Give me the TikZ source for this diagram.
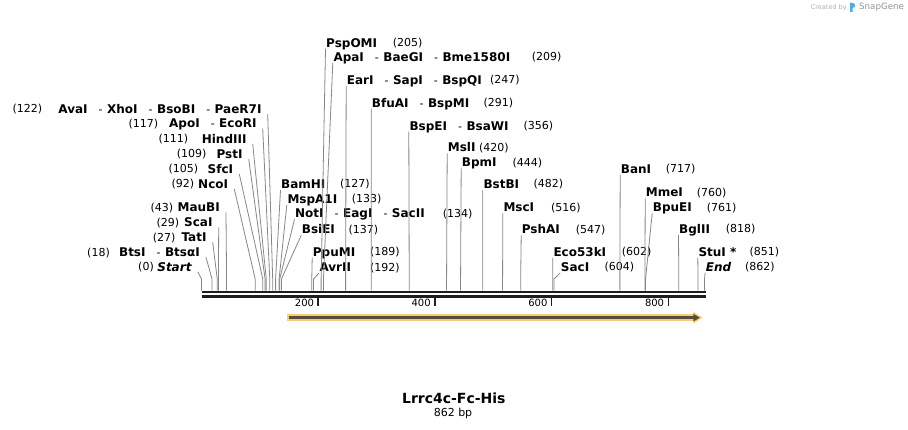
\documentclass[tikz,border=0pt]{standalone}
\usepackage{fontspec}
\setmainfont{DejaVu Sans}
\usetikzlibrary{arrows.meta}
\definecolor{leadgray}{RGB}{135,135,135}
\definecolor{bbdark}{RGB}{30,30,30}
\definecolor{featorange}{RGB}{251,201,122}
\definecolor{featcore}{RGB}{88,76,60}
\definecolor{wmgray}{RGB}{175,175,175}
\definecolor{snapblue}{RGB}{85,170,228}
\newcommand{\enzsep}{{\mdseries\fontsize{11}{13}\selectfont\hspace{11pt}-\hspace{4.5pt}}}

\begin{document}
\begin{tikzpicture}[x=1pt, y=-1pt,
  enzl/.style={font=\bfseries\fontsize{12}{14}\selectfont, inner sep=0pt, text height=8.75pt, text depth=0pt, anchor=east},
  enzr/.style={enzl, anchor=west},
  posl/.style={font=\fontsize{11}{13}\selectfont, inner sep=0pt, text height=8pt, text depth=0pt, anchor=east},
  posr/.style={posl, anchor=west},
  lead/.style={draw=leadgray, line width=.8pt},
  bbline/.style={draw=bbdark, line width=2.8pt},
  tickmark/.style={draw=bbdark, line width=1.6pt},
  ticklbl/.style={font=\fontsize{10}{12}\selectfont, inner sep=0pt, text height=7.3pt, text depth=0pt, anchor=east}]
\fill[white] (0,0) rectangle (908,430);
\useasboundingbox (0,0) rectangle (908,430);

% Map in base pairs
\begin{scope}[shift={(201.5,290.7)}, x=0.5835pt]
\coordinate (s0) at (0,0); \coordinate (s18) at (18,0); \coordinate (s27) at (27,0);
\coordinate (s29) at (29,0); \coordinate (s43) at (43,0); \coordinate (s92) at (92,0);
\coordinate (s105) at (105,0); \coordinate (s109) at (109,0); \coordinate (s111) at (111,0);
\coordinate (s117) at (117,0); \coordinate (s122) at (122,0); \coordinate (s127) at (127,0);
\coordinate (s133) at (133,0); \coordinate (s134) at (134,0); \coordinate (s137) at (137,0);
\coordinate (s189) at (189,0); \coordinate (s192) at (192,0); \coordinate (s205) at (205,0);
\coordinate (s209) at (209,0); \coordinate (s247) at (247,0); \coordinate (s291) at (291,0);
\coordinate (s356) at (356,0); \coordinate (s420) at (420,0); \coordinate (s444) at (444,0);
\coordinate (s482) at (482,0); \coordinate (s516) at (516,0); \coordinate (s547) at (547,0);
\coordinate (s602) at (602,0); \coordinate (s604) at (604,0); \coordinate (s717) at (717,0);
\coordinate (s760) at (760,0); \coordinate (s761) at (761,0); \coordinate (s818) at (818,0);
\coordinate (s851) at (851,0); \coordinate (s862) at (862,0);
% Backbone
\draw[bbline] (0,1.4) -- (864,1.4);
\draw[bbline] (0,5.65) -- (864,5.65);
% Ticks
\coordinate (t200) at (200,7); \coordinate (t400) at (400,7);
\coordinate (t600) at (600,7); \coordinate (t800) at (800,7);
\draw[tickmark] (t200) -- ++(0,8);
\draw[tickmark] (t400) -- ++(0,8);
\draw[tickmark] (t600) -- ++(0,8);
\draw[tickmark] (t800) -- ++(0,8);
% Feature
\coordinate (fs) at (147,27); \coordinate (fe) at (858.5,27);
\end{scope}

\node[ticklbl] (l200) at ([xshift=-4pt,yshift=-5.6pt]t200) {200};
\node[ticklbl] (l400) at ([xshift=-4pt,yshift=-5.6pt]t400) {400};
\node[ticklbl] (l600) at ([xshift=-4pt,yshift=-5.6pt]t600) {600};
\node[ticklbl] (l800) at ([xshift=-4pt,yshift=-5.6pt]t800) {800};

\draw[featorange, line width=7.5pt, -{Triangle[length=9pt,width=11pt]}] (fs) -- (fe);
\draw[featcore, line width=2.6pt, -{Triangle[length=6.5pt,width=7pt]}] ([xshift=2pt]fs) -- ([xshift=-2.5pt]fe);

% Left labels
\node[enzl] (ava) at (261.7,109) {AvaI\enzsep XhoI\enzsep BsoBI\enzsep PaeR7I};
\node[posl] (ava-p) at (42.3,109) {(122)};
\node[enzl] (apo) at (256.7,123.5) {ApoI\enzsep EcoRI};
\node[posl] (apo-p) at (158.3,123.5) {(117)};
\node[enzl] (hind) at (246.7,139) {HindIII};
\node[posl] (hind-p) at (188.3,139) {(111)};
\node[enzl] (pst) at (242.7,154) {PstI};
\node[posl] (pst-p) at (206.7,154) {(109)};
\node[enzl] (sfc) at (233.3,169) {SfcI};
\node[posl] (sfc-p) at (198.3,169) {(105)};
\node[enzl] (nco) at (228.3,184) {NcoI};
\node[posl] (nco-p) at (194.3,184) {(92)};
\node[enzl] (mau) at (220,207.3) {MauBI};
\node[posl] (mau-p) at (173.3,207.3) {(43)};
\node[enzl] (sca) at (212.7,222.3) {ScaI};
\node[posl] (sca-p) at (179.3,222.3) {(29)};
\node[enzl] (tat) at (206.7,237.3) {TatI};
\node[posl] (tat-p) at (175.7,237.3) {(27)};
\node[enzl] (bts) at (200,252.3) {BtsI\enzsep BtsαI};
\node[posl] (bts-p) at (110,252.3) {(18)};
\node[enzl] (start) at (191.7,266.7) {\itshape Start};
\node[posl] (start-p) at (154,266.7) {(0)};

\draw[lead] ([shift={(6,5)}]ava.east) -- ([yshift=11.7pt]s122) -- (s122);
\draw[lead] ([shift={(6,5)}]apo.east) -- ([yshift=11.7pt]s117) -- (s117);
\draw[lead] ([shift={(6,5)}]hind.east) -- ([yshift=11.7pt]s111) -- (s111);
\draw[lead] ([shift={(6,5)}]pst.east) -- ([yshift=11.7pt]s109) -- (s109);
\draw[lead] ([shift={(6,5)}]sfc.east) -- ([yshift=11.7pt]s105) -- (s105);
\draw[lead] ([shift={(6,5)}]nco.east) -- ([yshift=11.7pt]s92) -- (s92);
\draw[lead] ([shift={(6,5)}]mau.east) -- ([yshift=11.7pt]s43) -- (s43);
\draw[lead] ([shift={(6,5)}]sca.east) -- ([yshift=11.7pt]s29) -- (s29);
\draw[lead] ([shift={(6,5)}]tat.east) -- ([yshift=11.7pt]s27) -- (s27);
\draw[lead] ([shift={(6,5)}]bts.east) -- ([yshift=11.7pt]s18) -- (s18);
\draw[lead] ([shift={(6,5)}]start.east) -- ([yshift=11.7pt]s0) -- (s0);

% Right labels
\node[enzr] (pspo) at (326,42.7) {PspOMI};
\node[posr] (pspo-p) at (392.7,42.7) {(205)};
\node[enzr] (apa) at (333.3,56.7) {ApaI\enzsep BaeGI\enzsep Bme1580I};
\node[posr] (apa-p) at (531.7,56.7) {(209)};
\node[enzr] (ear) at (346.7,80) {EarI\enzsep SapI\enzsep BspQI};
\node[posr] (ear-p) at (490,80) {(247)};
\node[enzr] (bfu) at (371.7,102.7) {BfuAI\enzsep BspMI};
\node[posr] (bfu-p) at (483.3,102.7) {(291)};
\node[enzr] (bspe) at (409.3,125.7) {BspEI\enzsep BsaWI};
\node[posr] (bspe-p) at (523.3,125.7) {(356)};
\node[enzr] (msl) at (447.7,147.3) {MslI};
\node[posr] (msl-p) at (479,147.3) {(420)};
\node[enzr] (bpm) at (461.7,162.3) {BpmI};
\node[posr] (bpm-p) at (512.3,162.3) {(444)};
\node[enzr] (bam) at (281,184) {BamHI};
\node[posr] (bam-p) at (340,184) {(127)};
\node[enzr] (mspa) at (287.3,199) {MspA1I};
\node[posr] (mspa-p) at (351.7,199) {(133)};
\node[enzr] (not) at (295,213.3) {NotI\enzsep EagI\enzsep SacII};
\node[posr] (not-p) at (442.7,213.3) {(134)};
\node[enzr] (bsie) at (301.7,229.3) {BsiEI};
\node[posr] (bsie-p) at (348.3,229.3) {(137)};
\node[enzr] (ppu) at (312.7,251.7) {PpuMI};
\node[posr] (ppu-p) at (370,251.7) {(189)};
\node[enzr] (avr) at (319.3,267.3) {AvrII};
\node[posr] (avr-p) at (370,267.3) {(192)};
\node[enzr] (bstb) at (483.3,184) {BstBI};
\node[posr] (bstb-p) at (533.3,184) {(482)};
\node[enzr] (msc) at (503.3,207.3) {MscI};
\node[posr] (msc-p) at (551,207.3) {(516)};
\node[enzr] (psha) at (521.7,229.3) {PshAI};
\node[posr] (psha-p) at (575.7,229.3) {(547)};
\node[enzr] (eco) at (553.3,252) {Eco53kI};
\node[posr] (eco-p) at (621.7,252) {(602)};
\node[enzr] (sac) at (560.7,267) {SacI};
\node[posr] (sac-p) at (604.3,267) {(604)};
\node[enzr] (ban) at (620.7,169) {BanI};
\node[posr] (ban-p) at (665.7,169) {(717)};
\node[enzr] (mme) at (645.7,192.3) {MmeI};
\node[posr] (mme-p) at (696.7,192.3) {(760)};
\node[enzr] (bpue) at (652.7,207.3) {BpuEI};
\node[posr] (bpue-p) at (706.7,207.3) {(761)};
\node[enzr] (bgl) at (679,229) {BglII};
\node[posr] (bgl-p) at (725.7,229) {(818)};
\node[enzr] (stu) at (698.3,251.7) {StuI *};
\node[posr] (stu-p) at (749.3,251.7) {(851)};
\node[enzr] (end) at (705.7,266.7) {\itshape End};
\node[posr] (end-p) at (745,266.7) {(862)};

\draw[lead] ([shift={(-.5,6)}]pspo.west) -- ([yshift=11.7pt]s205) -- (s205);
\draw[lead] ([shift={(-.5,6)}]apa.west) -- ([yshift=11.7pt]s209) -- (s209);
\draw[lead] ([shift={(-.5,6)}]ear.west) -- ([yshift=11.7pt]s247) -- (s247);
\draw[lead] ([shift={(-.5,6)}]bfu.west) -- ([yshift=11.7pt]s291) -- (s291);
\draw[lead] ([shift={(-.5,6)}]bspe.west) -- ([yshift=11.7pt]s356) -- (s356);
\draw[lead] ([shift={(-.5,6)}]msl.west) -- ([yshift=11.7pt]s420) -- (s420);
\draw[lead] ([shift={(-.5,6)}]bpm.west) -- ([yshift=11.7pt]s444) -- (s444);
\draw[lead] ([shift={(-.5,6)}]bam.west) -- ([yshift=11.7pt]s127) -- (s127);
\draw[lead] ([shift={(-.5,6)}]mspa.west) -- ([yshift=11.7pt]s133) -- (s133);
\draw[lead] ([shift={(-.5,6)}]not.west) -- ([yshift=11.7pt]s134) -- (s134);
\draw[lead] ([shift={(-.5,6)}]bsie.west) -- ([yshift=11.7pt]s137) -- (s137);
\draw[lead] ([shift={(-.5,6)}]ppu.west) -- ([yshift=11.7pt]s189) -- (s189);
\draw[lead] ([shift={(-.5,6)}]avr.west) -- ([yshift=11.7pt]s192) -- (s192);
\draw[lead] ([shift={(-.5,6)}]bstb.west) -- ([yshift=11.7pt]s482) -- (s482);
\draw[lead] ([shift={(-.5,6)}]msc.west) -- ([yshift=11.7pt]s516) -- (s516);
\draw[lead] ([shift={(-.5,6)}]psha.west) -- ([yshift=11.7pt]s547) -- (s547);
\draw[lead] ([shift={(-.5,6)}]eco.west) -- ([yshift=11.7pt]s602) -- (s602);
\draw[lead] ([shift={(-.5,6)}]sac.west) -- ([yshift=11.7pt]s604) -- (s604);
\draw[lead] ([shift={(-.5,6)}]ban.west) -- ([yshift=11.7pt]s717) -- (s717);
\draw[lead] ([shift={(-.5,6)}]mme.west) -- ([yshift=11.7pt]s760) -- (s760);
\draw[lead] ([shift={(-.5,6)}]bpue.west) -- ([yshift=11.7pt]s761) -- (s761);
\draw[lead] ([shift={(-.5,6)}]bgl.west) -- ([yshift=11.7pt]s818) -- (s818);
\draw[lead] ([shift={(-.5,6)}]stu.west) -- ([yshift=11.7pt]s851) -- (s851);
\draw[lead] ([shift={(-.5,6)}]end.west) -- ([yshift=11.7pt]s862) -- (s862);

% Title
\node[font=\bfseries\fontsize{14}{16}\selectfont, inner sep=0pt] (title) at (453.8,398.3) {Lrrc4c-Fc-His};
\node[font=\fontsize{11}{13}\selectfont, inner sep=0pt] (size) at (453,413.3) {862 bp};

% Watermark
\node[font=\fontsize{6.5}{8}\selectfont, text=wmgray, inner sep=0pt, anchor=west] (made) at (810.7,7.3) {Created by};
\fill[snapblue] (850,12) -- (850,2.5) .. controls (856,2) and (857,7.5) .. (852.5,8) -- (852.5,12) -- cycle;
\node[font=\fontsize{8.7}{10}\selectfont, text=wmgray!85!black, inner sep=0pt, anchor=west] (snap) at (859,7) {SnapGene};
\end{tikzpicture}
\end{document}
